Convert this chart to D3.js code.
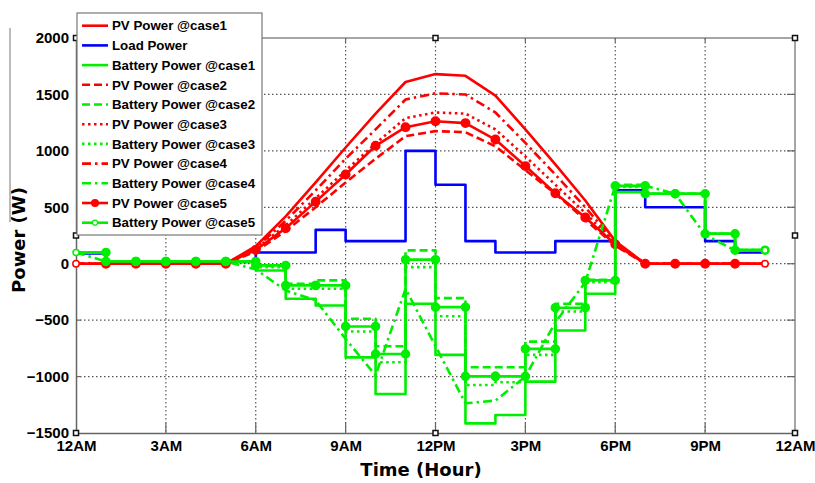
<!DOCTYPE html>
<html lang="en">
<head>
    <meta charset="UTF-8">
    <title>PV / Load / Battery Power</title>
    <script src="https://cdnjs.cloudflare.com/ajax/libs/d3/7.8.5/d3.min.js"></script>
    <style>
        * { margin: 0; padding: 0; }
        body { background: #fff; width: 815px; height: 483px; overflow: hidden; }
        svg text { font-family: "Liberation Sans", Arial, sans-serif; font-weight: bold; fill: #000; }
        svg text.title { font-family: "DejaVu Sans", sans-serif; }
    </style>
</head>
<body>
<svg id="chart" width="815" height="483"></svg>
<script>
    // hours 0..23, each value holds for one hour
    const hours = d3.range(0, 24);
    const xTicks = [0, 3, 6, 9, 12, 15, 18, 21, 24];
    const xTickLabels = ['12AM', '3AM', '6AM', '9AM', '12PM', '3PM', '6PM', '9PM', '12AM'];
    const yTicks = [-1500, -1000, -500, 0, 500, 1000, 1500, 2000];

    const pvCase1 = [0, 0, 0, 0, 0, 0, 155, 420, 720, 1030, 1330, 1610, 1680, 1665, 1490, 1190, 880, 560, 200, 0, 0, 0, 0, 0];
    const pvCase2 = [0, 0, 0, 0, 0, 0, 110, 290, 500, 720, 930, 1130, 1175, 1165, 1040, 830, 620, 390, 160, 0, 0, 0, 0, 0];
    const pvCase3 = [0, 0, 0, 0, 0, 0, 130, 340, 580, 825, 1065, 1290, 1340, 1330, 1190, 950, 700, 450, 180, 0, 0, 0, 0, 0];
    const pvCase4 = [0, 0, 0, 0, 0, 0, 140, 380, 650, 930, 1190, 1455, 1510, 1500, 1340, 1070, 790, 500, 190, 0, 0, 0, 0, 0];
    const pvCase5 = [0, 0, 0, 0, 0, 0, 122, 315, 550, 790, 1045, 1210, 1262, 1246, 1100, 865, 625, 410, 172, 0, 0, 0, 0, 0];

    const loadPower = [90, 15, 15, 15, 15, 15, 100, 100, 300, 200, 200, 1000, 700, 200, 100, 100, 200, 200, 650, 500, 500, 200, 100, 100];

    const batCase1 = [100, 20, 20, 20, 20, 20, -60, -310, -370, -830, -1155, -355, -808, -1415, -1340, -1045, -592, -266, 634, 620, 620, 265, 120, 120];
    const batCase2 = [100, 20, 20, 20, 20, 20, -20, -178, -148, -488, -731, 118, -305, -918, -918, -690, -355, -142, 700, 620, 620, 265, 120, 120];
    const batCase3 = [100, 20, 20, 20, 20, 20, -30, -222, -222, -600, -873, -30, -465, -1075, -1050, -808, -423, -163, 680, 620, 620, 265, 120, 120];
    const batCase4 = [100, 20, 20, 20, 20, 20, -50, -237, -325, -666, -990, -222, -730, -1237, -1213, -1000, -520, -165, 690, 690, 620, 255, 118, 118];
    const batCase5 = [100, 20, 20, 20, 20, 20, -15, -192, -192, -556, -800, 36, -385, -998, -998, -755, -390, -148, 690, 620, 620, 265, 120, 120];

    const RED = '#ff0000', BLUE = '#0000ff', GREEN = '#00ee00';
    const DASH = '8,4', DOT = '2.5,3.5', DASHDOT = '9,4,2.5,4';

    // legend order = drawing order
    const series = [
        { name: 'PV Power @case1', values: pvCase1, color: RED, dash: null, step: false },
        { name: 'Load Power', values: loadPower, color: BLUE, dash: null, step: true },
        { name: 'Battery Power @case1', values: batCase1, color: GREEN, dash: null, step: true },
        { name: 'PV Power @case2', values: pvCase2, color: RED, dash: DASH, step: false },
        { name: 'Battery Power @case2', values: batCase2, color: GREEN, dash: DASH, step: true },
        { name: 'PV Power @case3', values: pvCase3, color: RED, dash: DOT, step: false },
        { name: 'Battery Power @case3', values: batCase3, color: GREEN, dash: DOT, step: true },
        { name: 'PV Power @case4', values: pvCase4, color: RED, dash: DASHDOT, step: false },
        { name: 'Battery Power @case4', values: batCase4, color: GREEN, dash: DASHDOT, step: false },
        { name: 'PV Power @case5', values: pvCase5, color: RED, dash: null, step: false, marker: 'big' },
        { name: 'Battery Power @case5', values: batCase5, color: GREEN, dash: null, step: true, marker: 'small' }
    ];

    const svg = d3.select('#chart');
    const x = d3.scaleLinear().domain([0, 24]).range([76, 795]);
    const y = d3.scaleLinear().domain([-1500, 2000]).range([433, 38]);
    const pLeft = x(0), pRight = x(24), pTop = y(2000), pBottom = y(-1500);

    // grid
    const grid = svg.append('g').attr('stroke', '#555').attr('stroke-width', 1.2)
        .attr('stroke-dasharray', '1.5,2.5');
    grid.selectAll('.gx').data(xTicks.slice(1, -1)).enter().append('line')
        .attr('x1', d => x(d)).attr('x2', d => x(d)).attr('y1', pTop).attr('y2', pBottom);
    grid.selectAll('.gy').data(yTicks.slice(1, -1)).enter().append('line')
        .attr('x1', pLeft).attr('x2', pRight).attr('y1', d => y(d)).attr('y2', d => y(d));

    // frame (top/right lighter)
    svg.append('line').attr('x1', pLeft).attr('x2', pRight).attr('y1', pTop).attr('y2', pTop)
        .attr('stroke', '#888').attr('stroke-width', 1.5);
    svg.append('line').attr('x1', pRight).attr('x2', pRight).attr('y1', pTop).attr('y2', pBottom)
        .attr('stroke', '#888').attr('stroke-width', 1.5);

    // axes
    const xAxis = d3.axisBottom(x).tickValues(xTicks).tickSize(0).tickPadding(10)
        .tickFormat((d, i) => xTickLabels[i]);
    const gx = svg.append('g').attr('transform', `translate(0,${pBottom})`).call(xAxis);
    gx.select('.domain').attr('stroke', '#666').attr('stroke-width', 1.5);
    gx.selectAll('text').attr('font-size', 15).attr('dy', '0.55em');

    const yAxis = d3.axisLeft(y).tickValues(yTicks).tickSize(0).tickPadding(7)
        .tickFormat(d3.format('d'));
    const gy = svg.append('g').attr('transform', `translate(${pLeft},0)`).call(yAxis);
    gy.select('.domain').attr('stroke', '#666').attr('stroke-width', 1.5);
    gy.selectAll('text').attr('font-size', 15);

    // small tick marks on all four sides
    const ticks = svg.append('g').attr('stroke', '#666').attr('stroke-width', 1.2);
    xTicks.slice(1, -1).forEach(t => {
        ticks.append('line').attr('x1', x(t)).attr('x2', x(t)).attr('y1', pBottom).attr('y2', pBottom - 10);
        ticks.append('line').attr('x1', x(t)).attr('x2', x(t)).attr('y1', pTop).attr('y2', pTop + 4);
    });
    yTicks.slice(1, -1).forEach(t => {
        ticks.append('line').attr('x1', pLeft).attr('x2', pLeft + 5).attr('y1', y(t)).attr('y2', y(t));
        ticks.append('line').attr('x1', pRight).attr('x2', pRight - 8).attr('y1', y(t)).attr('y2', y(t));
    });

    // axis titles
    svg.append('text').attr('class', 'title').attr('x', 421).attr('y', 476)
        .attr('text-anchor', 'middle').attr('font-size', 18).text('Time (Hour)');
    svg.append('text').attr('class', 'title').attr('transform', 'translate(25,240) rotate(-90)')
        .attr('text-anchor', 'middle').attr('font-size', 18).text('Power (W)');
    svg.append('line').attr('x1', 10).attr('x2', 10).attr('y1', 28).attr('y2', 222)
        .attr('stroke', '#777').attr('stroke-width', 1);

    // data lines
    const plot = svg.append('g');
    const lineLinear = d3.line().x(d => x(d[0])).y(d => y(d[1]));
    const lineStep = d3.line().x(d => x(d[0])).y(d => y(d[1])).curve(d3.curveStepAfter);

    series.forEach(s => {
        const pts = hours.map(h => [h, s.values[h]]);
        plot.append('path')
            .datum(pts)
            .attr('d', s.step ? lineStep : lineLinear)
            .attr('fill', 'none')
            .attr('stroke', s.color)
            .attr('stroke-width', 2.6)
            .attr('stroke-dasharray', s.dash)
            .attr('stroke-linejoin', 'round');

        if (s.marker) {
            // markers at every vertex of the drawn line
            let verts = pts;
            if (s.step) {
                verts = [];
                pts.forEach((p, i) => {
                    if (i > 0) verts.push([p[0], pts[i - 1][1]]);
                    verts.push(p);
                });
            }
            const r = s.marker === 'big' ? 4.2 : 4;
            plot.selectAll(null).data(verts).enter().append('circle')
                .attr('cx', d => x(d[0])).attr('cy', d => y(d[1]))
                .attr('r', (d, i) => (i === 0 || i === verts.length - 1) ? r - 1 : r)
                .attr('fill', (d, i) => (i === 0 || i === verts.length - 1) ? '#fff' : s.color)
                .attr('stroke', s.color).attr('stroke-width', 1.5);
        }
    });

    // selection handles
    const handles = [[pLeft, pTop], [x(12), pTop], [pRight, pTop], [pLeft, y(250)], [pRight, y(250)],
        [pLeft, pBottom], [x(12), pBottom], [pRight, pBottom]];
    svg.selectAll('.handle').data(handles).enter().append('rect')
        .attr('x', d => d[0] - 2.5).attr('y', d => d[1] - 2.5)
        .attr('width', 5).attr('height', 5)
        .attr('fill', '#fff').attr('stroke', '#111').attr('stroke-width', 1.5);

    // legend
    const legend = svg.append('g');
    legend.append('rect').attr('x', 77).attr('y', 13).attr('width', 185).attr('height', 222)
        .attr('fill', '#fff').attr('stroke', '#777').attr('stroke-width', 1.2);
    const rowY = i => 25.7 + i * 19.7;
    series.forEach((s, i) => {
        const g = legend.append('g');
        g.append('line').attr('x1', 82).attr('x2', 108).attr('y1', rowY(i)).attr('y2', rowY(i))
            .attr('stroke', s.color).attr('stroke-width', 2.6).attr('stroke-dasharray', s.dash);
        if (s.marker === 'big') {
            g.append('circle').attr('cx', 95).attr('cy', rowY(i)).attr('r', 4).attr('fill', s.color);
        } else if (s.marker === 'small') {
            g.append('circle').attr('cx', 95).attr('cy', rowY(i)).attr('r', 2.5)
                .attr('fill', '#fff').attr('stroke', s.color).attr('stroke-width', 1.2);
        }
        g.append('text').attr('x', 112).attr('y', rowY(i)).attr('dy', '0.36em')
            .attr('font-size', 13.3).text(s.name);
    });
</script>
</body>
</html>
